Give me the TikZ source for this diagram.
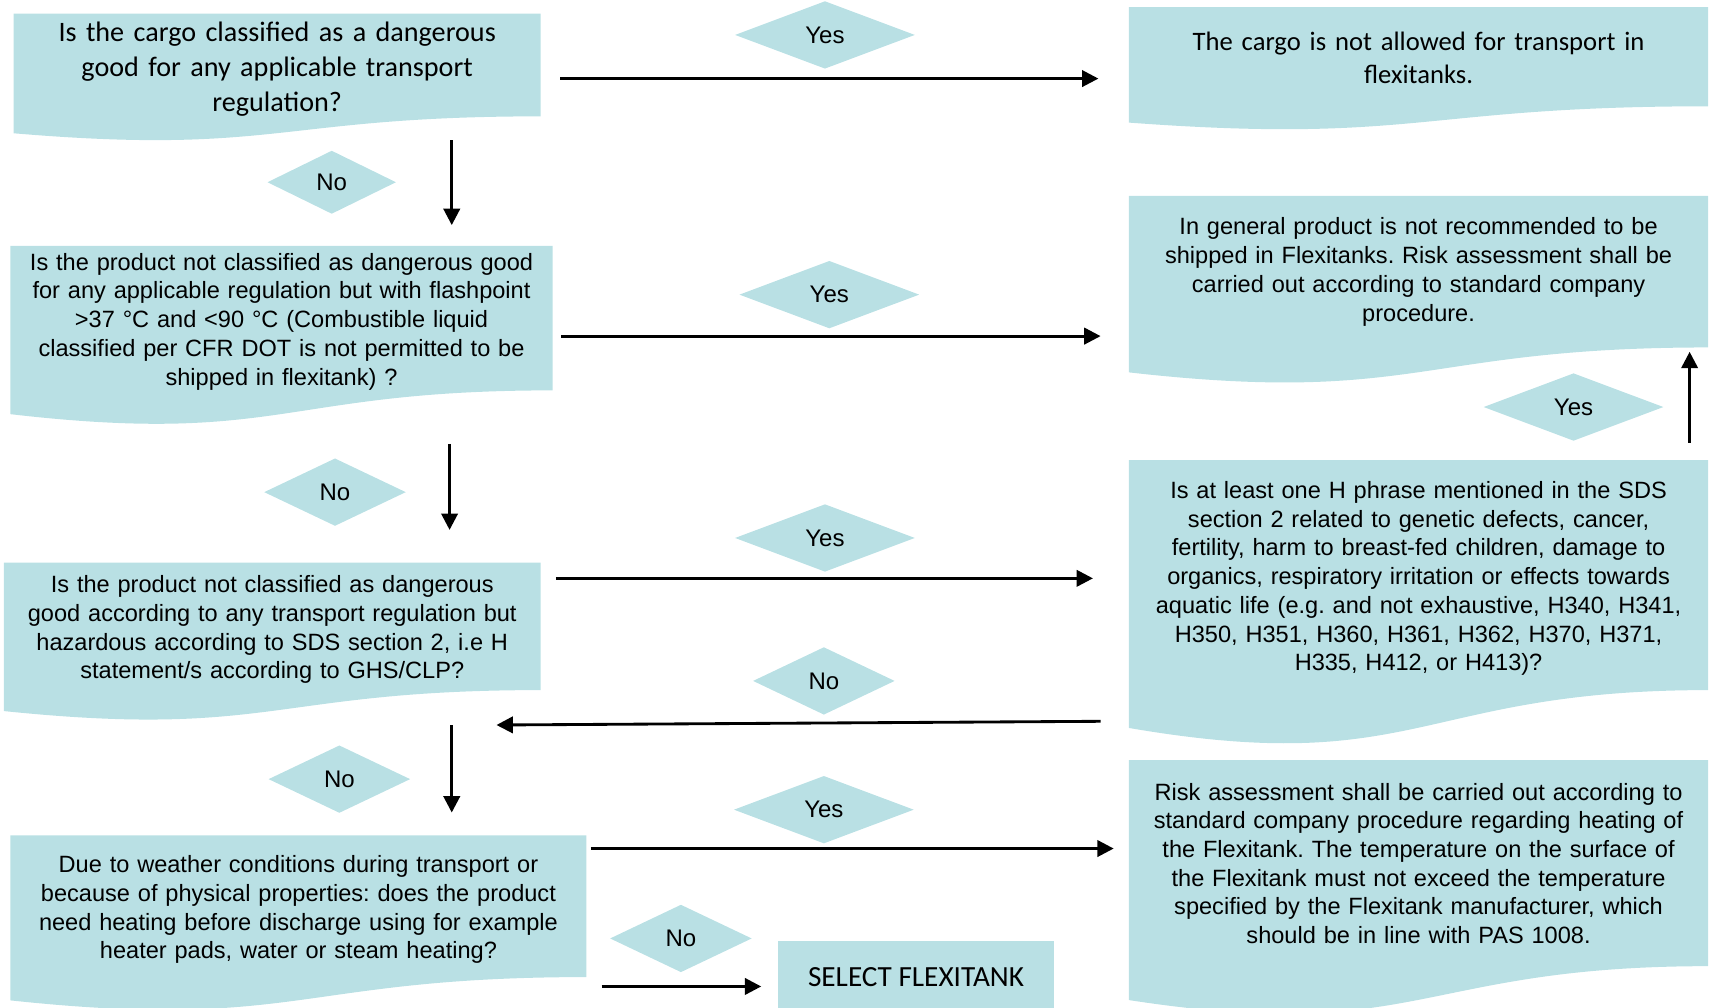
\documentclass[tikz,border=0pt]{standalone}
\usepackage{fontspec}
\setmainfont{Liberation Sans}
\newfontfamily\calibri{Carlito}
\usetikzlibrary{arrows.meta}
\usetikzlibrary{shapes.geometric}
\usetikzlibrary{calc}
\usetikzlibrary{backgrounds}
\frenchspacing

\definecolor{flexiblue}{RGB}{185,224,228}

\tikzset{
    docbox/.style={align=center, inner sep=0pt, text height=11pt, font=\fontsize{10.8}{13.15}\selectfont},
    docboxc/.style={docbox, text height=12.5pt, font={\calibri\fontsize{12.9}{16}\selectfont}},
    answer/.style={diamond, fill=flexiblue, inner sep=0pt, minimum width=82.5pt, minimum height=31pt, font=\fontsize{11}{13}\selectfont},
    flow/.style={-{Triangle[length=7.5pt,width=7.5pt]}, line width=1.3pt},
}

\begin{document}
\begin{tikzpicture}[x=0.5pt, y=-0.5pt]
    \useasboundingbox (0,0) rectangle (1568,923);

    \node[docboxc, text width=241pt, minimum height=45.5pt] (q1) at (254,59.5)
        {Is the cargo classified as a dangerous\\ good for any applicable transport\\ regulation?};
    \node[docbox, text width=248pt, minimum height=65.5pt] (q2) at (258,291.5)
        {Is the product not classified as dangerous good\\ for any applicable regulation but with flashpoint\\ >37 °C and <90 °C (Combustible liquid\\ classified per CFR DOT is not permitted to be\\ shipped in flexitank) ?};
    \node[docbox, text width=245.5pt, minimum height=58pt] (q3) at (249.5,574)
        {Is the product not classified as dangerous\\ good according to any transport regulation but\\ hazardous according to SDS section 2, i.e H\\ statement/s according to GHS/CLP?};
    \node[docbox, text width=263.5pt, minimum height=64.5pt] (q4) at (273.5,830.5)
        {Due to weather conditions during transport or\\ because of physical properties: does the product\\ need heating before discharge using for example\\ heater pads, water or steam heating?};

    \node[docboxc, text height=9.5pt, font={\calibri\fontsize{12.2}{15}\selectfont}, text width=265pt, minimum height=45pt] (r1) at (1300,52)
        {The cargo is not allowed for transport in\\ flexitanks.};
    \node[docbox, text height=8pt, text width=265pt, minimum height=69pt] (r2) at (1300,249)
        {In general product is not recommended to be\\ shipped in Flexitanks. Risk assessment shall be\\ carried out according to standard company\\ procedure.};
    \node[docbox, text width=265pt, minimum height=105pt] (r3) at (1300,527)
        {Is at least one H phrase mentioned in the SDS\\ section 2 related to genetic defects, cancer,\\ fertility, harm to breast-fed children, damage to\\ organics, respiratory irritation or effects towards\\ aquatic life (e.g. and not exhaustive, H340, H341,\\ H350, H351, H360, H361, H362, H370, H371,\\ H335, H412, or H413)?};
    \node[docbox, text height=8pt, text width=265pt, minimum height=94pt] (r4) at (1300,791)
        {Risk assessment shall be carried out according to\\ standard company procedure regarding heating of\\ the Flexitank. The temperature on the surface of\\ the Flexitank must not exceed the temperature\\ specified by the Flexitank manufacturer, which\\ should be in line with PAS 1008.};

    \node[fill=flexiblue, inner sep=0pt, font={\calibri\fontsize{13.4}{16}\selectfont}, minimum width=126.5pt, minimum height=33pt] (sel) at (839.5,895)
        {SELECT FLEXITANK};

    \begin{scope}[on background layer]
        \foreach \b in {q1,q2,q3,q4,r1,r2,r3,r4}
            \fill[flexiblue] (\b.north west) -- (\b.north east) -- (\b.south east)
                .. controls (\b.south) and ($(\b.north)!1.381!(\b.south)$)
                .. ($(\b.north west)!1.1646!(\b.south west)$) -- cycle;
    \end{scope}

    \node[answer] (yes1) at (756,32) {Yes};
    \node[answer, minimum width=59pt, minimum height=29pt] (no1) at (304,167) {No};
    \node[answer] (yes2) at (760,270) {Yes};
    \node[answer] (yes3) at (1442,373) {Yes};
    \node[answer, minimum width=65pt] (no2) at (307,451) {No};
    \node[answer] (yes4) at (756,493) {Yes};
    \node[answer, minimum width=65pt] (no3) at (755,624) {No};
    \node[answer, minimum width=65pt] (no4) at (311,714) {No};
    \node[answer] (yes5) at (755,742) {Yes};
    \node[answer, minimum width=65pt] (no5) at (624,860) {No};

    \draw[flow] ([shift={(18,12.5)}]q1.east) -- ([shift={(-28,20)}]r1.west);
    \draw[flow] ([shift={(160,22)}]q1.south) -- ([shift={(156,-19)}]q2.north);
    \draw[flow] ([shift={(8,16.5)}]q2.east) -- ([shift={(-26,59)}]r2.west);
    \draw[flow] ([shift={(154,49)}]q2.south) -- ([shift={(162.5,-30)}]q3.north);
    \draw[flow] ([shift={(14,-44)}]q3.east) -- ([shift={(-33,3)}]r3.west);
    \draw[flow] ([shift={(-26,134)}]r3.west) -- ([shift={(205.5,32)}]q3.south);
    \draw[flow] ([shift={(164.5,32)}]q3.south) -- ([shift={(140.5,-21)}]q4.north);
    \draw[flow] ([shift={(-17,-16)}]r3.north east) -- ([shift={(-17,4)}]r2.south east);
    \draw[flow] ([shift={(4,12)}]q4.north east) -- ([shift={(-14,81)}]r4.north west);
    \draw[flow] ([shift={(14,73.5)}]q4.east) -- ([shift={(-15,9)}]sel.west);
\end{tikzpicture}
\end{document}
